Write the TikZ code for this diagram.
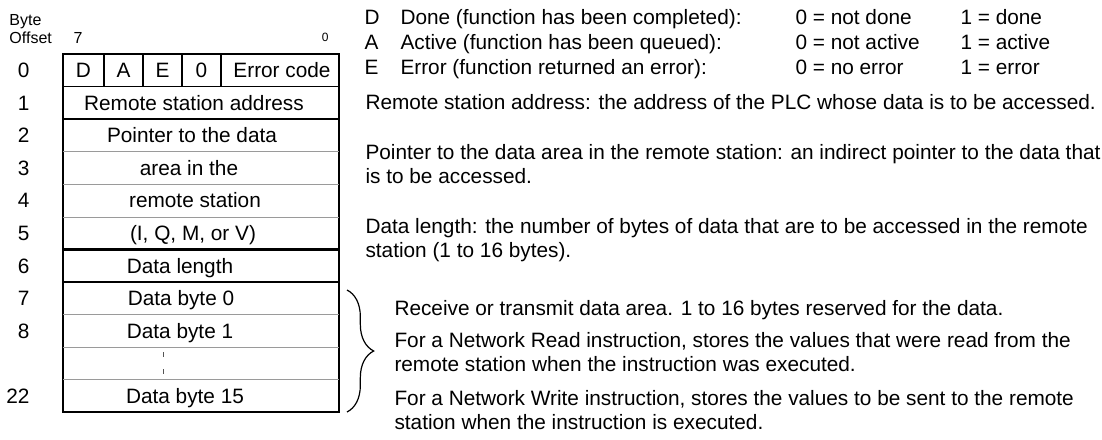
\documentclass[tikz,border=0pt]{standalone}
\usepackage{fontspec}
\setmainfont{Liberation Sans}
\usetikzlibrary{decorations.pathreplacing}
\definecolor{cline}{HTML}{9A9A9A}
\definecolor{cdash}{HTML}{555555}
\tikzset{
  every picture/.style={line width=0.75pt},
  txt/.style={font=\fontsize{15.6}{18.4}\selectfont, inner sep=0pt},
  num/.style={txt, anchor=base east},
  cell/.style={txt, anchor=base},
  note/.style={txt, anchor=base west},
  small/.style={font=\fontsize{12}{14}\selectfont, inner sep=0pt, anchor=base west},
  rowline/.style={draw=cline, line width=0.75pt},
  groupline/.style={draw=black, line width=1.6pt},
  bitline/.style={draw=black, line width=0.8pt},
}

\begin{document}
\begin{tikzpicture}[x=0.75pt, y=-0.75pt]
  \useasboundingbox (0,0) rectangle (1102,439);
  % header
  \node[small] (byte) at (9,25) {Byte};
  \node[small] (offset) at (9,43) {Offset};
  \node[small] (msb) at (73,43) {7};
  \node[font=\fontsize{9}{10}\selectfont, inner sep=0pt, anchor=base east] (lsb) at (329,41) {0};
  % table frame and lines
  \draw[line width=1pt] (63,54) rectangle (339,412);
  \draw[bitline] (63,86.5) -- (339,86.5);
  \foreach \x in {104,143,182,221} \draw[bitline] (\x,54) -- (\x,86.5);
  \draw[groupline] (63,119) -- (339,119) (63,249.5) -- (339,249.5) (63,282) -- (339,282);
  \foreach \y in {151.5,184.5,217,314.5,347,379.5} \draw[rowline] (63,\y) -- (339,\y);
  \draw[cdash, dash pattern=on 3.75pt off 9pt] (163,352) -- (163,376);
  % byte offsets
  \foreach \n/\i in {0/0,1/1,2/2,3/3,4/4,5/5,6/6,7/7,8/8,22/10}
    \node[num] (r\n) at (30,{77.7+32.55*\i}) {\n};
  % cells
  \node[cell] (bitd) at (83.5,77.7) {D};
  \node[cell] (bita) at (123.5,77.7) {A};
  \node[cell] (bite) at (162.5,77.7) {E};
  \node[cell] (bitz) at (201.5,77.7) {0};
  \node[cell] (err) at (282,77.7) {Error code};
  \node[cell] (addr) at (194,110.3) {Remote station address};
  \node[cell] (ptra) at (192,142.8) {Pointer to the data};
  \node[cell] (ptrb) at (189,175.4) {area in the};
  \node[cell] (ptrc) at (195,207.9) {remote station};
  \node[cell] (ptrd) at (193,240.5) {(I, Q, M, or V)};
  \node[cell] (len) at (180,273) {Data length};
  \node[cell] (dat0) at (181,305.6) {Data byte 0};
  \node[cell] (dat1) at (180,338.1) {Data byte 1};
  \node[cell] (dat15) at (185,403.2) {Data byte 15};
  % status bits
  \foreach \k/\txt/\no/\yes [count=\i from 0] in {
      D/Done (function has been completed):/0 = not done/1 = done,
      A/Active (function has been queued):/0 = not active/1 = active,
      E/Error (function returned an error):/0 = no error/1 = error} {
    \node[note] (flag\k) at (364,{24+25*\i}) {\k};
    \node[note] (desc\k) at (400,{24+25*\i}) {\txt};
    \node[note] (off\k) at (795,{24+25*\i}) {\no};
    \node[note] (on\k) at (960,{24+25*\i}) {\yes};
  }
  % descriptions
  \node[note] (addrnote) at (365,109) {Remote station address: the address of the PLC whose data is to be accessed.};
  \node[note] (ptrnote) at (365,159) {Pointer to the data area in the remote station: an indirect pointer to the data that};
  \node[note] (ptrnoteb) at (365,183.5) {is to be accessed.};
  \node[note] (lennote) at (365,233) {Data length: the number of bytes of data that are to be accessed in the remote};
  \node[note] (lennoteb) at (365,257.5) {station (1 to 16 bytes).};
  \coordinate (bracetop) at (347,290);
  \coordinate (bracebot) at (347,412);
  \draw[decorate, decoration={brace, amplitude=20pt}, line width=0.9pt] (bracetop) -- (bracebot);
  \node[note] (datnote) at (394,315) {Receive or transmit data area. 1 to 16 bytes reserved for the data.};
  \node[note] (readnote) at (394,347) {For a Network Read instruction, stores the values that were read from the};
  \node[note] (readnoteb) at (394,371.5) {remote station when the instruction was executed.};
  \node[note] (writenote) at (394,405) {For a Network Write instruction, stores the values to be sent to the remote};
  \node[note] (writenoteb) at (394,429.5) {station when the instruction is executed.};
\end{tikzpicture}
\end{document}
